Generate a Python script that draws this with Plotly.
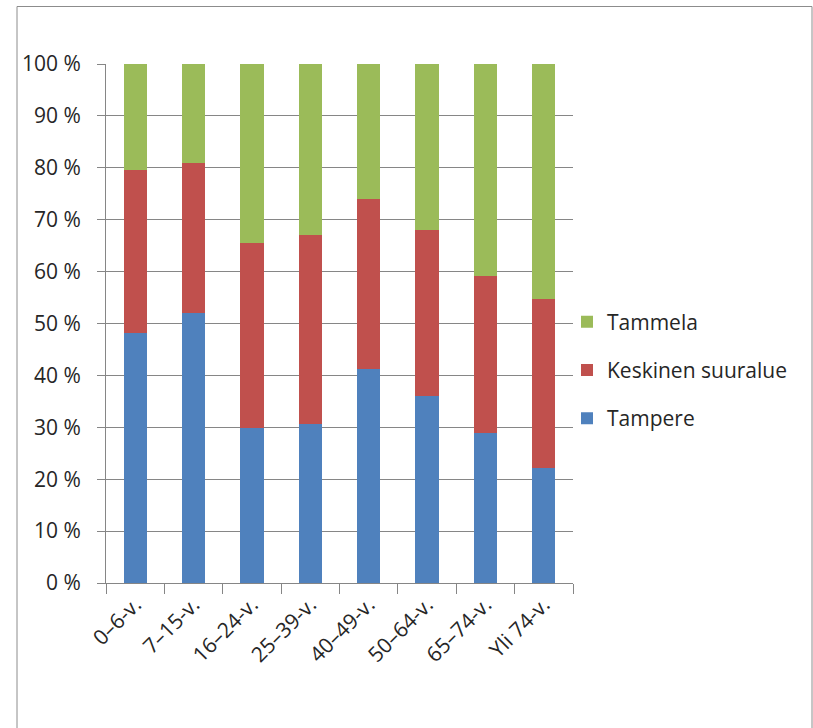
import plotly.graph_objects as go

# Age groups and regional shares (% of each age group)
age_groups = ["0–6-v.", "7–15-v.", "16–24-v.", "25–39-v.", "40–49-v.", "50–64-v.", "65–74-v.", "Yli 74-v."]
tampere = [48.2, 52.1, 29.9, 30.6, 41.3, 36.0, 28.9, 22.2]
keskinen_suuralue = [31.3, 28.8, 35.7, 36.5, 32.6, 32.0, 30.3, 32.6]
tammela = [20.5, 19.1, 34.4, 32.9, 26.1, 32.0, 40.8, 45.2]

y_ticks = [0, 10, 20, 30, 40, 50, 60, 70, 80, 90, 100]
y_tick_labels = [f"{v} %" for v in y_ticks]

FONT = "Open Sans"
FS = 21
TEXT_COLOR = "#262626"
GRID_COLOR = "#868686"

fig = go.Figure()
# stacked bottom-to-top; legend lists the top segment first
series = [
    ("Tampere", tampere, "#4F81BD", 3),
    ("Keskinen suuralue", keskinen_suuralue, "#C0504D", 2),
    ("Tammela", tammela, "#9BBB59", 1),
]
for name, values, color, rank in series:
    fig.add_trace(go.Bar(
        x=age_groups, y=values, name=name, legendgroup=name, legendrank=rank,
        marker=dict(color=color, line=dict(width=0)),
    ))

# Plot area placement in pixels
W, H = 813, 728
L, R, T, B = 106, 573, 64, 583
pw, ph = R - L, B - T

def px_x(p):
    return (p - L) / pw

def px_y(p):
    return (B - p) / ph

fig.update_layout(
    width=W, height=H,
    margin=dict(l=L, r=W - R, t=T, b=H - B, pad=0),
    paper_bgcolor="white", plot_bgcolor="white",
    barmode="stack", bargap=0.6,
    font=dict(family=FONT, size=FS, color=TEXT_COLOR),
    showlegend=True,
    legend=dict(
        x=px_x(567), xanchor="left", y=px_y(370), yanchor="middle",
        traceorder="grouped", tracegroupgap=18,
        itemwidth=30, font=dict(family=FONT, size=FS, color=TEXT_COLOR),
        bgcolor="rgba(0,0,0,0)",
    ),
    xaxis=dict(
        type="category", tickson="boundaries", ticks="outside", ticklen=10,
        tickcolor=GRID_COLOR, tickwidth=1, showline=True, linecolor=GRID_COLOR,
        linewidth=1, tickangle=-45, showgrid=False,
        tickfont=dict(family=FONT, size=FS, color=TEXT_COLOR),
    ),
    yaxis=dict(
        range=[0, 100], tickvals=y_ticks, ticktext=y_tick_labels,
        ticks="outside", ticklen=8, tickcolor=GRID_COLOR, tickwidth=1,
        showline=True, linecolor=GRID_COLOR, linewidth=1,
        showgrid=True, gridcolor=GRID_COLOR, gridwidth=1, zeroline=False,
        ticklabelstandoff=12,
        tickfont=dict(family=FONT, size=FS, color=TEXT_COLOR),
    ),
    shapes=[dict(
        type="rect", xref="paper", yref="paper", layer="below",
        x0=px_x(17), x1=px_x(812), y0=px_y(760), y1=px_y(6.5),
        line=dict(color="#8c8c8c", width=1), fillcolor="rgba(0,0,0,0)",
    )],
)

fig.write_html("out.html")
